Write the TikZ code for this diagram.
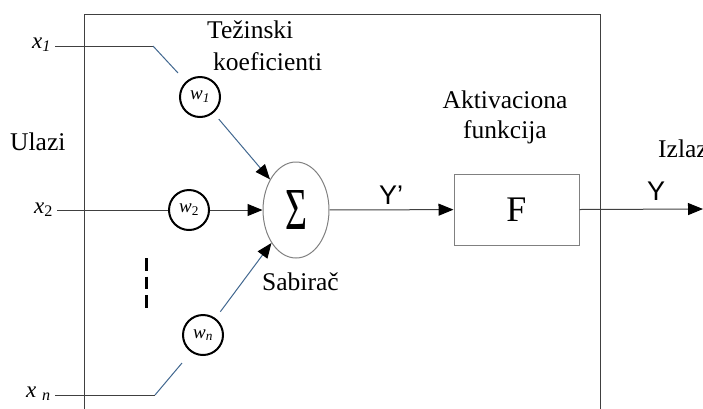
\documentclass[tikz,border=0pt]{standalone}
\usepackage{fontspec}
\setmainfont{Liberation Serif}
\newfontfamily\sansf{Liberation Sans}
\usepackage{graphicx}
\usetikzlibrary{arrows.meta,shapes.geometric}
\definecolor{lineg}{HTML}{404040}
\definecolor{lineb}{HTML}{41678F}
\definecolor{edgeg}{HTML}{808080}
\begin{document}
\begin{tikzpicture}[x=1pt,y=-1pt,
  gline/.style={draw=lineg,line width=1pt},
  bline/.style={draw=lineb,line width=1pt},
  arr/.style={-{Triangle[length=15pt,width=12pt,color=black]}},
  wcirc/.style={circle,draw=black,line width=2pt,minimum size=40pt,inner sep=0pt,font=\fontsize{19}{21}\selectfont},
  lbl/.style={font=\fontsize{25.5}{28}\selectfont,inner sep=0pt},
  xlbl/.style={font=\fontsize{23}{25}\selectfont,inner sep=0pt,anchor=base west},
  slbl/.style={font=\sansf\fontsize{27}{29}\selectfont,inner sep=0pt,anchor=base west}
]
\useasboundingbox (0,0) rectangle (703,408);
% frame
\draw[gline] (84,412) -- (84,14) -- (600,14) -- (600,412);

% labels
\node[lbl,anchor=base west] (tez) at (207,38) {Težinski};
\node[lbl,anchor=base west] (koef) at (213,70) {koeficienti};
\node[lbl,anchor=base west] (ulazi) at (10,150) {Ulazi};
\node[lbl,anchor=base] (akt) at (505,108) {Aktivaciona};
\node[lbl,anchor=base] (fun) at (505,138) {funkcija};
\node[lbl,anchor=base west] (izlaz) at (658,157) {Izlaz};
\node[lbl,anchor=base west] (sab) at (262,290) {Sabirač};
\node[slbl] (yp) at (379,204) {Y’};
\node[slbl] (y) at (647,200) {Y};

% input labels
\node[xlbl] (x1) at (32,48) {\textit{x}\textsubscript{\textit{1}}};
\node[xlbl] (x2) at (34,213) {\textit{x}\textsubscript{2}};
\node[xlbl] (xn) at (26,397) {\textit{x} \textsubscript{\textit{n}}};

% main nodes
\node[wcirc] (w1) at (200,97) {\textit{w}\textsubscript{\textit{1}}};
\node[wcirc] (w2) at (189,210) {\textit{w}\textsubscript{2}};
\node[wcirc] (wn) at (203,335) {\textit{w}\textsubscript{\textit{n}}};
\node[ellipse,draw=edgeg,line width=1pt,minimum width=66pt,minimum height=96pt,inner sep=0pt] (sum) at (296,210) {\resizebox{22pt}{39pt}{Σ}};
\node[rectangle,draw=edgeg,line width=1pt,minimum width=125pt,minimum height=71pt,inner sep=0pt,font=\fontsize{36}{38}\selectfont] (F) at (516.5,209.5) {F};

% coordinates
\coordinate (a1) at (55,46);
\coordinate (b1) at (153,46);
\coordinate (c1) at (178,73);
\coordinate (a2) at (57,210);
\coordinate (an) at (55,395);
\coordinate (bn) at (155,395);
\coordinate (cn) at (182,363);
\coordinate (out) at (703,209);
\coordinate (d1) at (146,258);
\coordinate (d2) at (146,308);

% connectors
\draw[gline] (a1) -- (b1);
\draw[bline] (b1) -- (c1);
\draw[bline,arr,shorten <=8pt] (w1) -- (sum);
\draw[gline] (a2) -- (w2);
\draw[gline,arr] (w2) -- (sum);
\draw[gline] (an) -- (bn);
\draw[bline] (bn) -- (cn);
\draw[bline,arr,shorten <=8pt] (wn) -- (sum);
\draw[gline,arr] (sum) -- (F);
\draw[gline,arr] (F.east) -- (out);
\draw[black,line width=3pt,dash pattern=on 12.5pt off 6pt] (d1) -- (d2);
\end{tikzpicture}
\end{document}
